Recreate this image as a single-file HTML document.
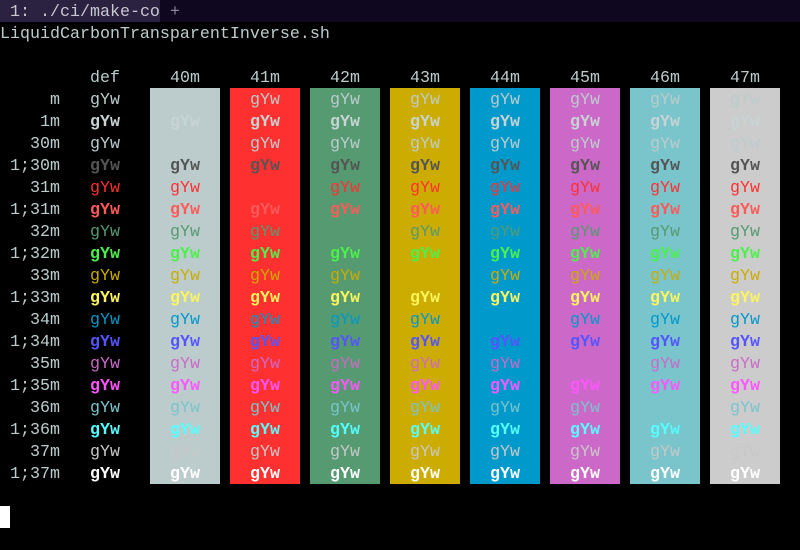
<!DOCTYPE html>
<html><head><meta charset="utf-8"><style>
html,body{margin:0;padding:0;background:#000;}
#scr{position:relative;width:800px;height:550px;overflow:hidden;background:#000;font-family:"Liberation Mono",monospace;font-size:16.67px;line-height:22px;color:#bccccc;}
.t{position:absolute;white-space:pre;height:22px;padding-top:2px;box-sizing:border-box;}
.bx{position:absolute;}
</style></head><body>
<div id="scr">
<div class="bx" style="left:0;top:0;width:800px;height:22px;background:#0f0620"></div>
<div class="bx" style="left:0;top:0;width:160px;height:22px;background:#2b2140"></div>
<div class="t" style="left:10px;top:0;color:#c8c8d0">1: ./ci/make-co</div>
<div class="t" style="left:170px;top:0;color:#8a8498">+</div>
<div class="t" style="left:0;top:22px">LiquidCarbonTransparentInverse.sh</div>
<div class="bx" style="left:0;top:506px;width:10px;height:22px;background:#fff"></div>
</div>
<script>
const rowLabels=["m","1m","30m","1;30m","31m","1;31m","32m","1;32m","33m","1;33m","34m","1;34m","35m","1;35m","36m","1;36m","37m","1;37m"];
const rowColors=["#bccccc","#c8d4d4","#bccccc","#555555","#ff3030","#ff5a5a","#559a70","#4cf04c","#ccac00","#fcf55c","#0099cc","#5555ff","#cc69c8","#ff55ff","#7ac4cc","#55ffff","#c8c8c8","#ffffff"];
const colLabels=["40m","41m","42m","43m","44m","45m","46m","47m"];
const bgColors=["#bccccc","#ff3030","#559a70","#ccac00","#0099cc","#cc69c8","#7ac4cc","#cccccc"];
const scr=document.getElementById('scr');
function add(cls,l,t,txt,st){const d=document.createElement('div');d.className=cls;d.style.left=l+'px';d.style.top=t+'px';if(txt!==null)d.textContent=txt;Object.assign(d.style,st||{});scr.appendChild(d);return d;}
const h=add('t',90,66,'def');


colLabels.forEach((c,j)=>{
  const x=150+80*j;
  const b=add('bx',x,88,null,{width:'70px',height:(22*rowLabels.length)+'px',background:bgColors[j]});
  
  
  const hd=add('t',x+20,66,c);
  
  
});
rowLabels.forEach((r,i)=>{
  const y=88+22*i;
  const bold=r.startsWith('1')?'bold':'normal';
  const lb=add('t',60-10*r.length,y,r);
  
  
  const d=add('t',90,y,'gYw',{color:rowColors[i],fontWeight:bold});
  
  
  colLabels.forEach((c,j)=>{
    const s=add('t',170+80*j,y,'gYw',{color:rowColors[i],fontWeight:bold});
    
    
  });
});
</script>
</body></html>
